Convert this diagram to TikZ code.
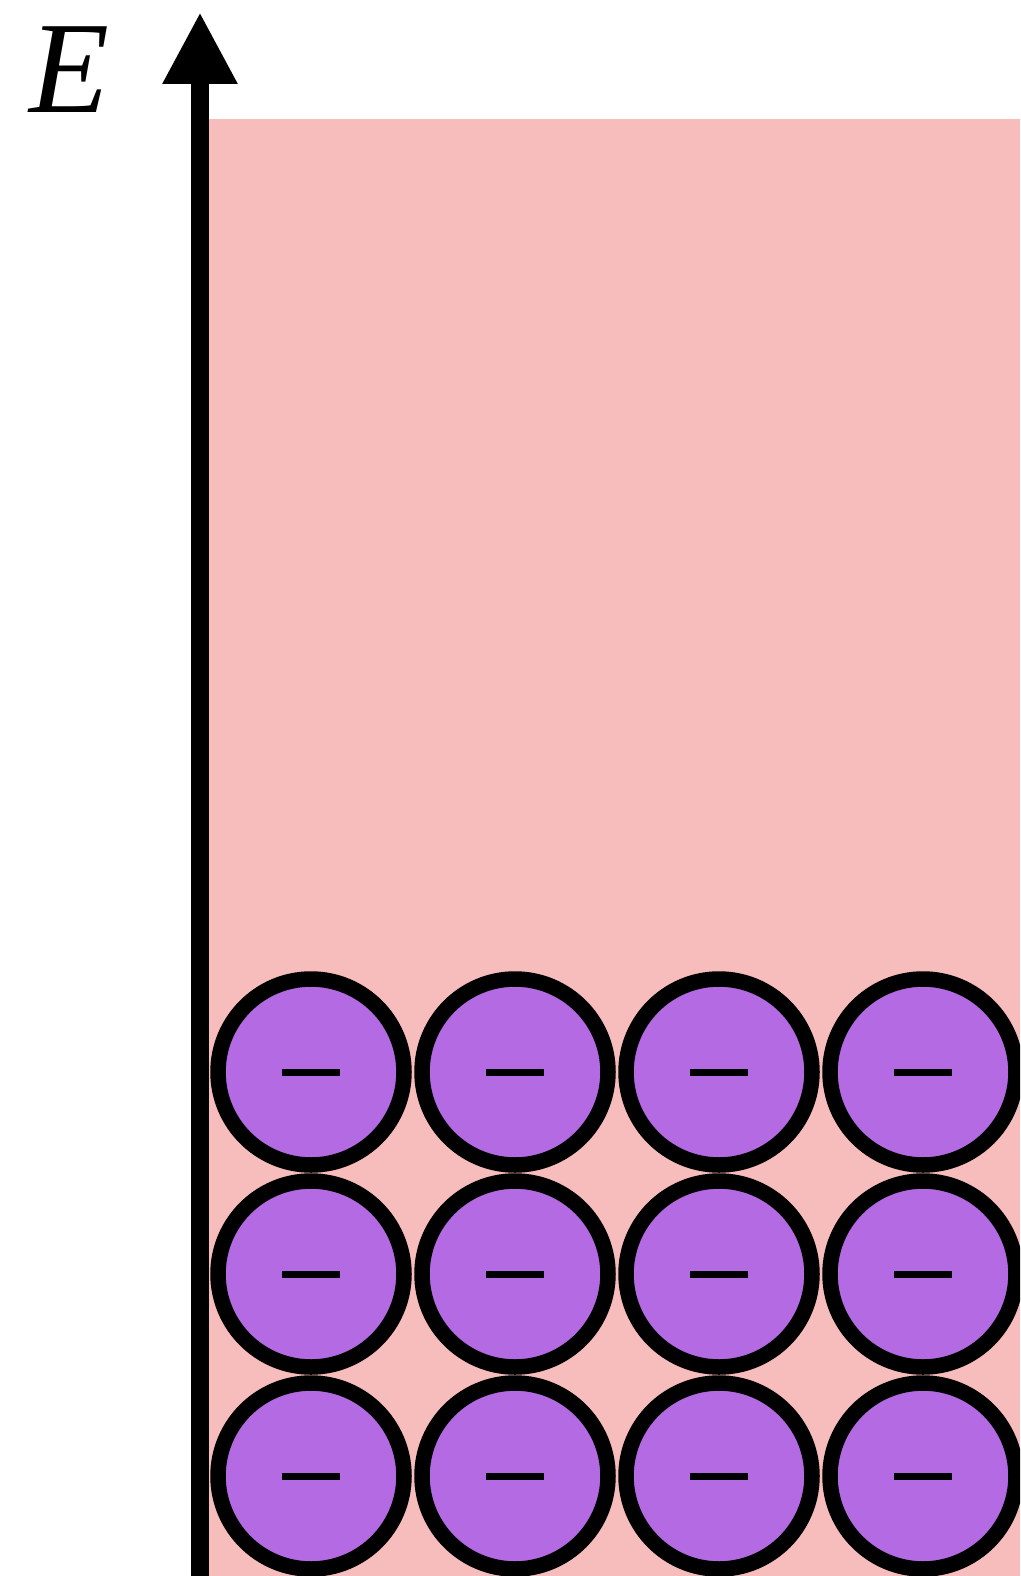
\documentclass[tikz,border=0pt]{standalone}
\usepackage{fontspec}
\newfontfamily\labelfont{Liberation Serif}
\usetikzlibrary{arrows.meta}
\definecolor{bandpink}{RGB}{247,189,188}
\definecolor{elecpurple}{RGB}{179,106,226}
\begin{document}
\begin{tikzpicture}[x=1pt,y=-1pt,
  electron/.style={draw=black,line width=15.5pt,fill=elecpurple},
  minusbar/.style={line width=7pt,black}]
\useasboundingbox (0,0) rectangle (1020,1576);
\clip (0,0) rectangle (1020,1576);
\fill[bandpink] (209,119) rectangle (1020,1577);
\foreach \r/\y in {1/1072,2/1274,3/1476}{
  \foreach \c/\x in {1/311,2/515,3/719,4/923}{
    \draw[electron] (\x,\y) circle[radius=93];
    \draw[minusbar] (\x-29,\y) -- (\x+29,\y);
  }
}
\coordinate (axbottom) at (200,1580);
\coordinate (axtop) at (200,12);
\draw[line width=18pt,-{Triangle[width=70pt,length=72pt]}] (axbottom) -- (axtop);
\node[inner sep=0pt] (Elabel) at (70,70) {\labelfont\itshape\fontsize{131}{131}\selectfont E};
\end{tikzpicture}
\end{document}
